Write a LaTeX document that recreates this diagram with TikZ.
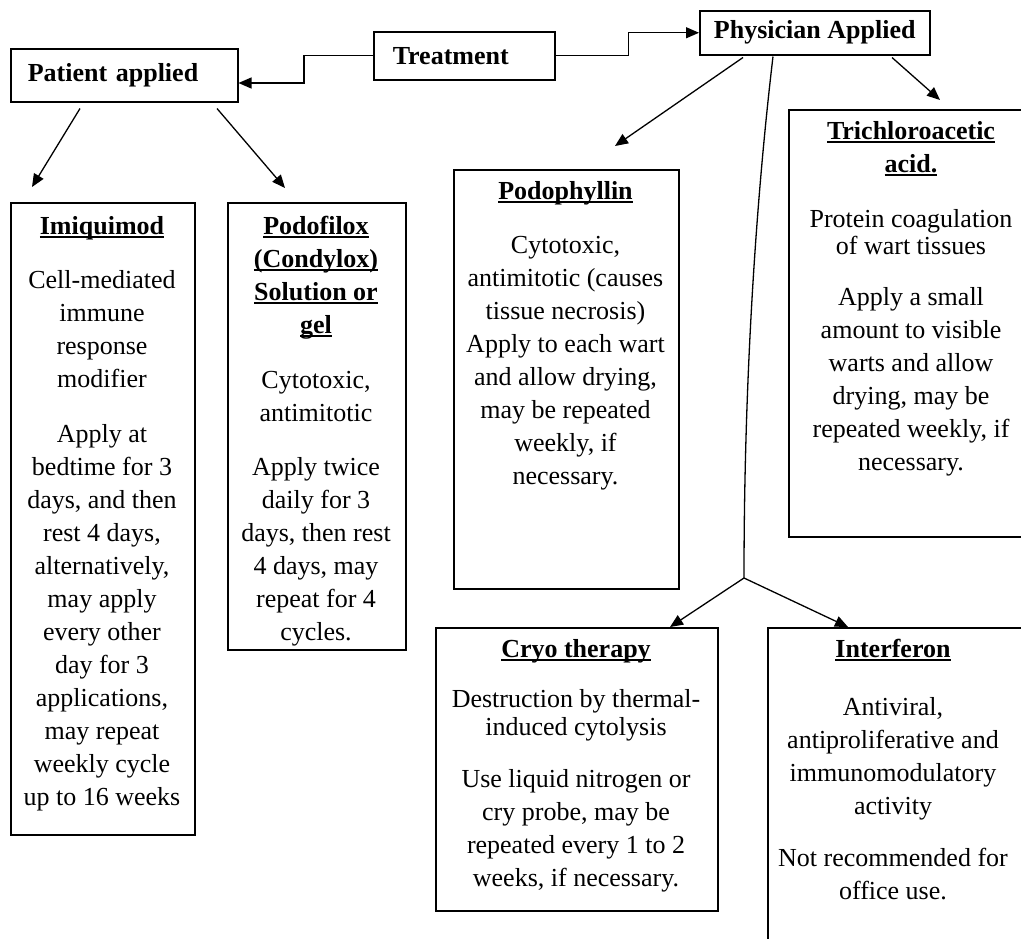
\documentclass[tikz,border=0pt]{standalone}
\usepackage{fontspec}
\setmainfont{Liberation Serif}
\usetikzlibrary{arrows.meta,calc}
\newcommand\myul[1]{\setbox0\hbox{#1}\rlap{\rule[-3.8pt]{\wd0}{1.6pt}}\box0}
\begin{document}
\begin{tikzpicture}[x=1pt,y=-1pt,
  box/.style={draw=black, line width=1.5pt, inner sep=0pt},
  txt/.style={align=center, inner sep=0pt, anchor=north, font=\fontsize{26pt}{33pt}\selectfont},
  hd/.style={font=\fontsize{26pt}{33pt}\selectfont\bfseries},
  arr/.style={line width=1.3pt, -{Triangle[length=13pt,width=11pt]}},
  ln/.style={line width=1.3pt}]
\useasboundingbox (0,0) rectangle (1021,938);
\clip (0,0) rectangle (1021,938);

% top level nodes
\node[box, hd, anchor=north west, minimum width=227pt, minimum height=53pt, text width=193pt, inner xsep=17pt, align=left] (pat) at (10,48) {Patient applied};
\node[box, hd, anchor=north west, minimum width=181pt, minimum height=48pt, text width=143pt, inner xsep=19pt, align=left] (trt) at (373,31) {Treatment};
\node[box, hd, anchor=north west, minimum width=230pt, minimum height=44pt] (phys) at (699,10) {Physician Applied};

% content boxes
\node[box, anchor=north west, minimum width=184pt, minimum height=632pt] (imq) at (10,202) {};
\node[box, anchor=north west, minimum width=178pt, minimum height=447pt] (pdx) at (227,202) {};
\node[box, anchor=north west, minimum width=225pt, minimum height=419pt] (pph) at (453,169) {};
\node[box, anchor=north west, minimum width=250pt, minimum height=427pt] (tca) at (788,109) {};
\node[box, anchor=north west, minimum width=282pt, minimum height=283pt] (cryo) at (435,627) {};
\node[box, anchor=north west, minimum width=262pt, minimum height=340pt] (intf) at (767,627) {};

% texts
\node[txt] (imqT) at (102,214) {\rule{0pt}{20pt}\myul{\bfseries Imiquimod}\\[21pt]
 Cell-mediated\\ immune\\ response\\ modifier\\[22pt]
 Apply at\\ bedtime for 3\\ days, and then\\ rest 4 days,\\ alternatively,\\ may apply\\ every other\\ day for 3\\ applications,\\ may repeat\\ weekly cycle\\ up to 16 weeks};

\node[txt] (pdxT) at (316,214) {\rule{0pt}{20pt}\myul{\bfseries Podofilox}\\ \myul{\bfseries (Condylox)}\\ \myul{\bfseries Solution or}\\ \myul{\bfseries gel}\\[22pt]
 Cytotoxic,\\ antimitotic\\[21pt]
 Apply twice\\ daily for 3\\ days, then rest\\ 4 days, may\\ repeat for 4\\ cycles.};

\node[txt] (pphT) at (565.5,179) {\rule{0pt}{20pt}\myul{\bfseries Podophyllin}\\[21pt]
 Cytotoxic,\\ antimitotic (causes\\ tissue necrosis)\\ Apply to each wart\\ and allow drying,\\ may be repeated\\ weekly, if\\ necessary.};

\node[txt] (tcaT) at (911,119) {\rule{0pt}{20pt}\myul{\bfseries Trichloroacetic}\\ \myul{\bfseries acid.}\\[22pt]
 Protein coagulation\\[-6pt] of wart tissues\\[18pt]
 Apply a small\\ amount to visible\\ warts and allow\\ drying, may be\\ repeated weekly, if\\ necessary.};

\node[txt] (cryoT) at (576,637) {\rule{0pt}{20pt}\myul{\bfseries Cryo therapy}\\[17pt]
 Destruction by thermal-\\[-5pt] induced cytolysis\\[19pt]
 Use liquid nitrogen or\\ cry probe, may be\\ repeated every 1 to 2\\ weeks, if necessary.};

\node[txt] (intfT) at (893,637) {\rule{0pt}{20pt}\myul{\bfseries Interferon}\\[25pt]
 Antiviral,\\ antiproliferative and\\ immunomodulatory\\ activity\\[19pt]
 Not recommended for\\ office use.};

% coordinates
\coordinate (imqA) at (32,187);
\coordinate (pdxA) at (285,188);
\coordinate (pphA) at (615,146);
\coordinate (tcaA) at (940,100);
\coordinate (split) at (744,578);

% connectors
\draw[arr] (trt.west) -- ++(-69,0) |- ($(pat.north east)+(0,35)$);
\draw[arr] (trt.east) -- ++(73,0) |- (phys.west);
\draw[arr] ($(pat.south west)+(70,6)$) -- (imqA);
\draw[arr] ($(pat.south west)+(207,6)$) -- (pdxA);
\draw[arr] ($(phys.south west)+(44,2)$) -- (pphA);
\draw[arr] ($(phys.south west)+(193,2)$) -- (tcaA);
\draw[ln] ($(phys.south west)+(74,1)$) .. controls (756,200) and (744,380) .. (split);
\draw[arr] (split) -- ($(cryo.north west)+(235,0)$);
\draw[arr] (split) -- ($(intf.north west)+(81,0)$);
\end{tikzpicture}
\end{document}
